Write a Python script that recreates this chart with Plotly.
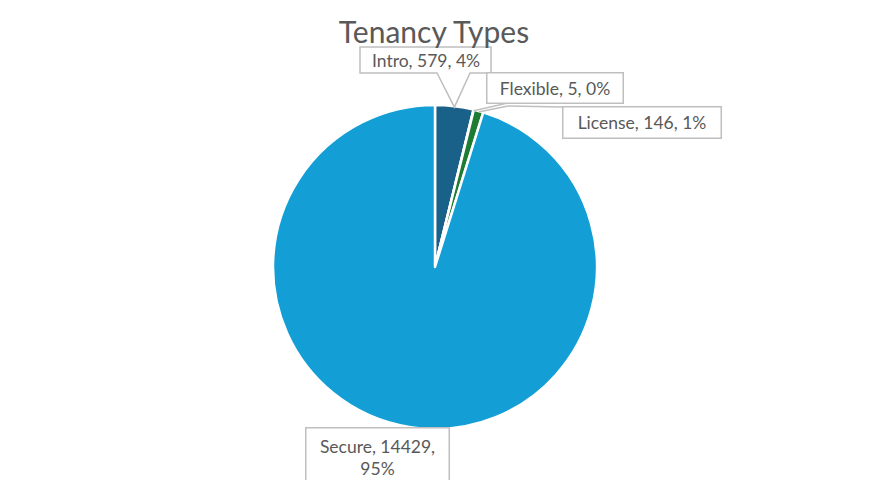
import math
import plotly.graph_objects as go

categories = ["Intro", "Flexible", "License", "Secure"]
values = [579, 5, 146, 14429]
percent_labels = ["4%", "0%", "1%", "95%"]
colors = ["#196189", "#1f4e99", "#1e7b34", "#139fd6"]

W, H = 871, 480
OFF = 8  # page body margin offset
CX, CY, R = 435 - OFF, 267 - OFF, 162  # pie centre / radius in figure pixels

FONT = dict(family="Lato, Open Sans, sans-serif", size=17.5, color="#595959")
BORDER = "#bfbfbf"


def px2paper(x, y):
    return x / W, 1 - y / H


def path_of(pts, close=False):
    s = "M " + " L ".join(f"{px2paper(x, y)[0]:.5f},{px2paper(x, y)[1]:.5f}" for x, y in pts)
    return s + (" Z" if close else "")


fig = go.Figure(go.Pie(
    labels=categories, values=values, sort=False, direction="clockwise",
    rotation=0, marker=dict(colors=colors, line=dict(color="white", width=2.5)),
    textinfo="none", hoverinfo="label+value+percent", showlegend=False,
    domain=dict(x=[(CX - R) / W, (CX + R) / W], y=[1 - (CY + R) / H, 1 - (CY - R) / H]),
))

# label boxes (left, top, right, bottom) in reference pixels
boxes = {
    "Intro": (360, 47, 491, 73),
    "Flexible": (487, 73, 622, 102),
    "License": (563, 107, 720, 137),
    "Secure": (306, 428, 448, 486),
}
# leader line start points / elbows (reference pixels)
leaders = {
    "Flexible": [(512, 102)],
    "License": [(563, 107), (508, 106)],
}

total = sum(values)
cum = 0
for cat, v, p in zip(categories, values, percent_labels):
    mid = (cum + v / 2) / total * 2 * math.pi
    cum += v
    px = CX + R * math.sin(mid)
    py = CY - R * math.cos(mid)
    l, t, r, b = [c - OFF for c in boxes[cat]]
    lx, ly = (l + r) / 2, (t + b) / 2
    text = f"{cat}, {v},<br>{p}" if cat == "Secure" else f"{cat}, {v}, {p}"
    cx_, cy_ = px2paper(lx, ly)
    if cat == "Intro":
        pl, pr = 437 - OFF, 470 - OFF
        pts = [(l, t), (r, t), (r, b), (pr, b), (px, py + 1), (pl, b), (l, b)]
        fig.add_shape(type="path", path=path_of(pts, close=True), xref="paper", yref="paper",
                      line=dict(color=BORDER, width=1.5), fillcolor="white", layer="above")
        fig.add_annotation(x=cx_, y=cy_, xref="paper", yref="paper", text=text, showarrow=False,
                           font=FONT, xanchor="center", yanchor="middle")
    else:
        if cat in leaders:
            pts = [(x - OFF, y - OFF) for x, y in leaders[cat]] + [(px, py + 1)]
            fig.add_shape(type="path", path=path_of(pts), xref="paper", yref="paper",
                          line=dict(color=BORDER, width=1.5), layer="above")
        fig.add_annotation(x=cx_, y=cy_, xref="paper", yref="paper", text=text, showarrow=False,
                           width=r - l, height=b - t, borderpad=0, bordercolor=BORDER,
                           borderwidth=1.5, bgcolor="white", font=FONT,
                           xanchor="center", yanchor="middle")

tx, ty = px2paper(434 - OFF, 32 - OFF)
fig.update_layout(
    width=W, height=H, margin=dict(l=0, r=0, t=0, b=0),
    paper_bgcolor="white", plot_bgcolor="white",
    title=dict(text="Tenancy Types", x=tx, xanchor="center", y=ty, yanchor="middle",
               font=dict(family="Lato, Open Sans, sans-serif", size=30, color="#595959")),
)

fig.write_html("out.html")
